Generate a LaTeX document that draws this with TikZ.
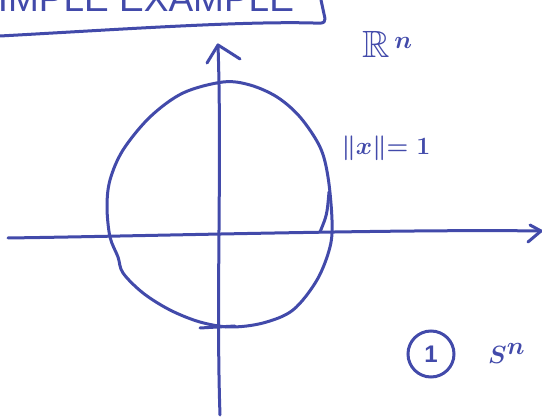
\documentclass[tikz,border=0pt]{standalone}
\usepackage{amssymb}
\usepackage{fontspec}
\setsansfont{Liberation Sans}
\definecolor{ink}{RGB}{66,74,170}
\tikzset{pen/.style={draw=ink,line width=3pt,line cap=round,line join=round},
  txt/.style={text=ink,inner sep=0pt}}

\begin{document}
\begin{tikzpicture}[x=1pt,y=-1pt]
\clip (0,0) rectangle (542,419);
\useasboundingbox (0,0) rectangle (542,419);

% title box, cut off at the top
\node[txt,font=\sffamily\fontsize{37}{37}\selectfont,anchor=base west] (title) at (-27,12) {SIMPLE EXAMPLE};
\draw[pen] (0,36) .. controls (110,30) and (240,21) .. (313,23)
  .. controls (326,24) and (326,22) .. (324,14) -- (321,0);

% axes
\coordinate (ytop) at (218,45);
\coordinate (ybot) at (220,415);
\coordinate (xl) at (8,238);
\coordinate (xr) at (541,231);
\draw[pen] (ybot) .. controls (216,300) and (222,160) .. (ytop);
\draw[pen] (207,63) -- (ytop) .. controls (226,50) .. (240,59);
\draw[pen] (xl) .. controls (150,236) and (400,229) .. (xr);
\draw[pen] (530,225) -- (xr) -- (528,242);

% circle
\draw[pen] plot[smooth cycle,tension=0.55] coordinates {
  (223,82) (250,85) (277,97) (300,117) (320,147) (328,177) (332,220)
  (330,247) (317,280) (293,310) (263,323) (230,327) (200,322) (170,310)
  (143,293) (123,273) (118,257) (110,237) (107,207) (110,180) (123,150)
  (150,117) (183,93)};
\draw[pen] (200,328) -- (235,326);
\draw[pen] (329,192) .. controls (327,215) .. (320,232);

% labels
\node[txt,font=\boldmath\fontsize{24}{24}\selectfont] (norm) at (386,148) {$\|x\|{=}\;1$};
\node[txt,font=\boldmath\fontsize{38}{38}\selectfont,anchor=base west] (rn) at (362,58) {$\mathbb{R}^{\,n}$};
\node[txt,draw=ink,line width=3pt,circle,minimum size=46pt,font=\sffamily\bfseries\fontsize{24}{24}\selectfont] (one) at (431,354) {1};
\node[txt,font=\boldmath\fontsize{46}{46}\selectfont,anchor=base west] (sn) at (488,364) {$S^{n}$};
\end{tikzpicture}
\end{document}
